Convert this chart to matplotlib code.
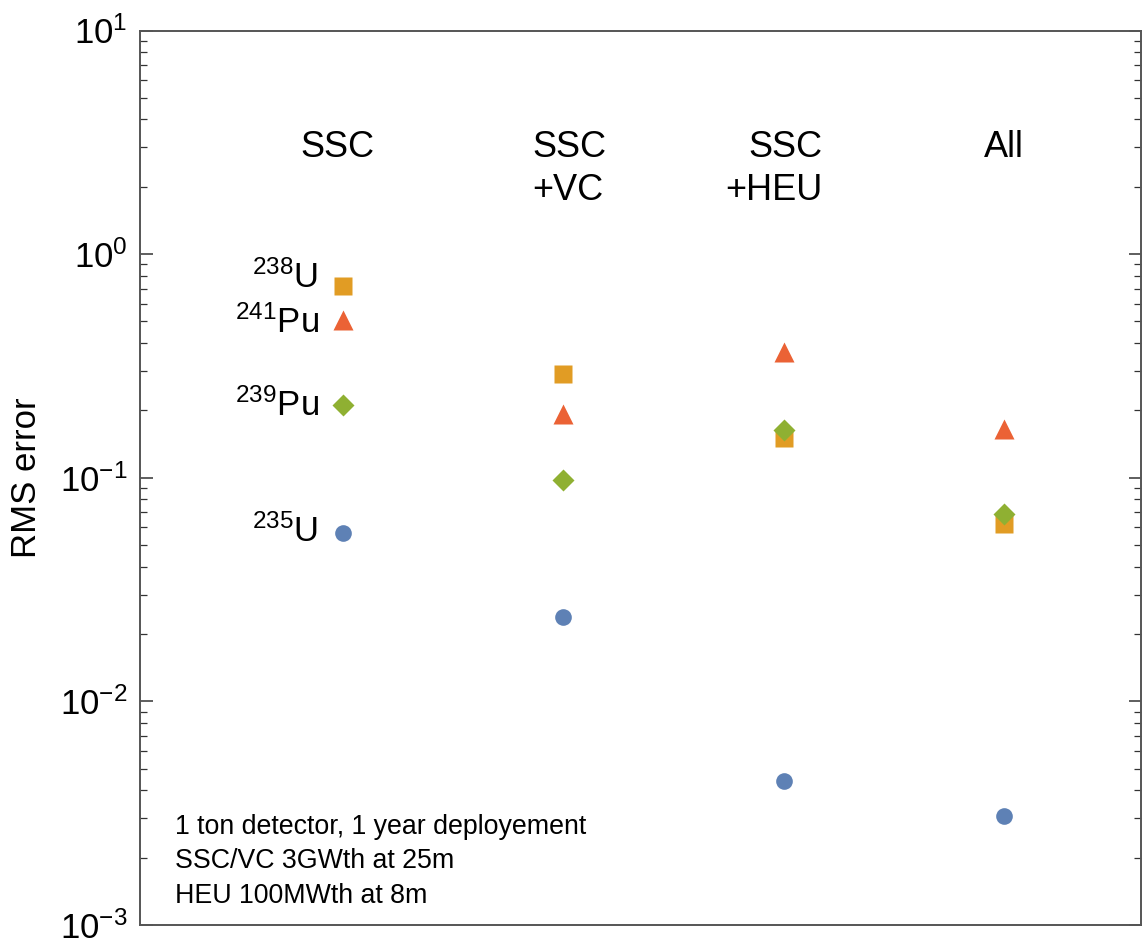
import numpy as np
import matplotlib
matplotlib.use("Agg")
import matplotlib.pyplot as plt
from matplotlib.ticker import LogLocator

plt.rcParams["font.family"] = ["Liberation Sans", "DejaVu Sans"]
plt.rcParams["mathtext.fontset"] = "custom"
plt.rcParams["mathtext.rm"] = "Liberation Sans"
plt.rcParams["mathtext.it"] = "Liberation Sans:italic"
plt.rcParams["mathtext.bf"] = "Liberation Sans:bold"

# configurations (x positions 1..4)
configs = ["SSC", "SSC+VC", "SSC+HEU", "All"]
xpos = np.arange(1, len(configs) + 1)

# RMS error per isotope
u238 = [0.72, 0.29, 0.150, 0.062]
pu241 = [0.51, 0.192, 0.364, 0.165]
pu239 = [0.211, 0.098, 0.163, 0.069]
u235 = [0.0565, 0.0238, 0.0044, 0.00306]

col_u238 = "#E19C24"
col_pu241 = "#EB6235"
col_pu239 = "#8FB032"
col_u235 = "#5E81B5"

fig = plt.figure(figsize=(11.42, 9.40), dpi=100)
ax = fig.add_axes([140 / 1142, 15 / 940, 1001 / 1142, 894.5 / 940])

ax.plot(xpos, u238, ls="none", marker="s", ms=13.5, color=col_u238, mec="none")
ax.plot(xpos, pu241, ls="none", marker="^", ms=15, color=col_pu241, mec="none")
ax.plot(xpos, pu239, ls="none", marker="D", ms=11.5, color=col_pu239, mec="none")
ax.plot(xpos, u235, ls="none", marker="o", ms=12, color=col_u235, mec="none")

ax.set_yscale("log")
ax.set_ylim(1e-3, 1e1)
ax.set_xlim(0.0785, 4.622)
ax.set_xticks([])
ax.yaxis.set_major_locator(LogLocator(base=10, numticks=10))
ax.yaxis.set_minor_locator(LogLocator(base=10, subs=np.arange(2, 10), numticks=20))

ax.tick_params(axis="y", which="both", direction="in", left=True, right=True,
               labelsize=25, color="#333333", pad=9)
ax.tick_params(axis="y", which="major", length=9, width=1.1)
ax.tick_params(axis="y", which="minor", length=5, width=0.9)
for sp in ax.spines.values():
    sp.set_color("#555555")
    sp.set_linewidth(1.4)

ax.set_ylabel("RMS error", fontsize=25, labelpad=12)

# column labels
ax.text(0.977, 2.72, "SSC", fontsize=26, ha="center", va="baseline")
ax.text(1.86, 2.72, "SSC", fontsize=26, ha="left", va="baseline")
ax.text(1.86, 1.745, "+VC", fontsize=26, ha="left", va="baseline")
ax.text(3.175, 2.72, "SSC", fontsize=26, ha="right", va="baseline")
ax.text(3.175, 1.745, "+HEU", fontsize=26, ha="right", va="baseline")
ax.text(4.0, 2.72, "All", fontsize=26, ha="center", va="baseline")

# isotope labels next to SSC column
ax.text(0.886, 0.705, "$^{238}$U", fontsize=25, ha="right", va="baseline")
ax.text(0.892, 0.443, "$^{241}$Pu", fontsize=25, ha="right", va="baseline")
ax.text(0.892, 0.190, "$^{239}$Pu", fontsize=25, ha="right", va="baseline")
ax.text(0.886, 0.0515, "$^{235}$U", fontsize=25, ha="right", va="baseline")

notes = ["1 ton detector, 1 year deployement",
         "SSC/VC 3GWth at 25m",
         "HEU 100MWth at 8m"]
for i, line in enumerate(notes):
    ax.text(0.035, 0.110 - i * 0.039, line, fontsize=19.3, ha="left", va="center",
            transform=ax.transAxes)

fig.savefig("out.png", dpi=100)
